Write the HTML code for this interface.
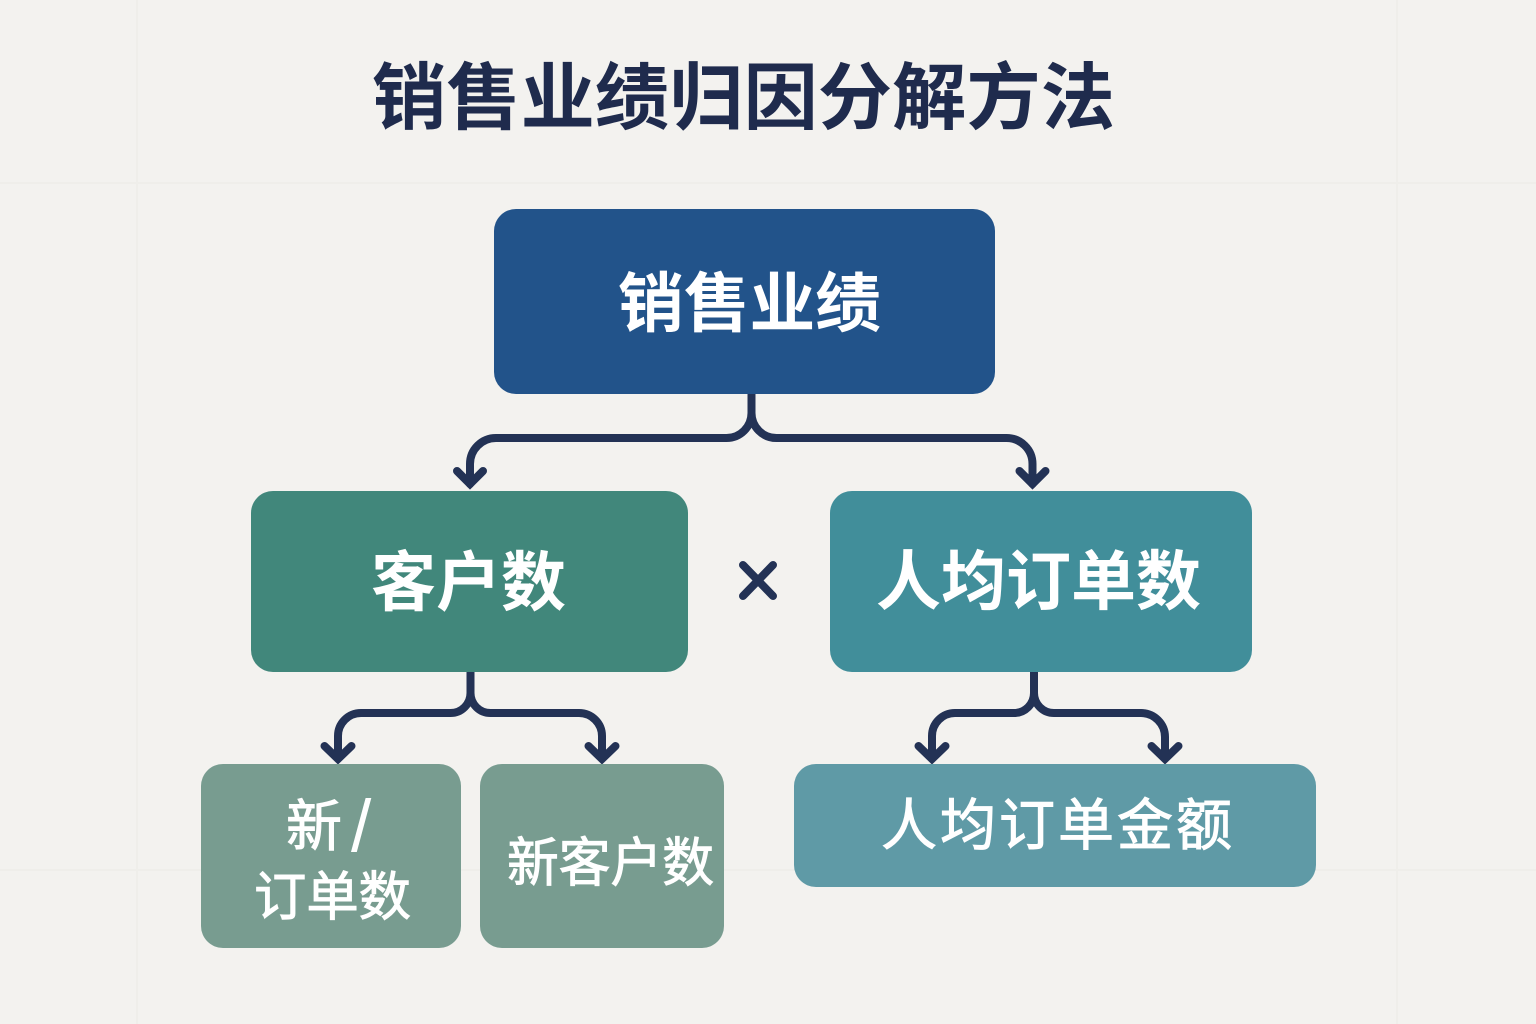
<!DOCTYPE html>
<html lang="zh"><head><meta charset="utf-8"><title>销售业绩归因分解方法</title>
<style>
html,body{margin:0;padding:0;background:#f3f2ef}
svg{display:block}
text{font-family:"Liberation Sans","Noto Sans CJK SC",sans-serif;fill:#fff}
.b{font-weight:700}
.m{stroke:#fff;stroke-width:1px}
.c{fill:none;stroke:#233255;stroke-width:8;stroke-linecap:round}
.a{fill:none;stroke:#233255;stroke-width:8;stroke-linecap:round;stroke-linejoin:miter}
</style></head><body>
<svg width="1536" height="1024" viewBox="0 0 1536 1024" xmlns="http://www.w3.org/2000/svg">
<rect width="1536" height="1024" fill="#f3f2ef"/>
<g stroke="#efeeea" stroke-width="2" fill="none">
<path d="M137 0V1024M1397 0V1024M0 183H1536M0 870H1536"/>
</g>
<text class="b" x="372" y="123" font-size="73" textLength="743" lengthAdjust="spacingAndGlyphs" style="fill:#1f2b4d">销售业绩归因分解方法</text>

<path class="c" d="M751.500 390V413A25 25 0 0 1 726.500 438H496A26 26 0 0 0 470 464V484M751.500 390V413A25 25 0 0 0 776.500 438H1006A26 26 0 0 1 1032.500 464V484"/>
<path class="a" d="M457 471L470 484L483 471M1019.500 471L1032.500 484L1045.500 471"/>

<path class="c" d="M470.500 668V693A20 20 0 0 1 450.500 713H361A23 23 0 0 0 338 736V757M470.500 668V693A20 20 0 0 0 490.500 713H579A23 23 0 0 1 602 736V757"/>
<path class="a" d="M324.500 746L338 759L351.500 746M588.500 746L602 759L615.500 746"/>

<path class="c" d="M1034 668V693A20 20 0 0 1 1014 713H955A23 23 0 0 0 932 736V757M1034 668V693A20 20 0 0 0 1054 713H1141A24 24 0 0 1 1165 737V757"/>
<path class="a" d="M918.500 746L932 759L945.500 746M1151.500 746L1165 759L1178.500 746"/>

<rect x="494" y="209" width="501" height="185" rx="22" fill="#22538a"/>
<rect x="251" y="491" width="437" height="181" rx="22" fill="#41877b"/>
<rect x="830" y="491" width="422" height="181" rx="22" fill="#418e9a"/>
<rect x="201" y="764" width="260" height="184" rx="22" fill="#789c90"/>
<rect x="480" y="764" width="244" height="184" rx="22" fill="#789c90"/>
<rect x="794" y="764" width="522" height="123" rx="22" fill="#5f9aa6"/>

<path d="M743 565L773 596M773 565L743 596" stroke="#233255" stroke-width="8" stroke-linecap="round" fill="none"/>

<text class="b" x="618" y="326" font-size="65" textLength="263" lengthAdjust="spacingAndGlyphs">销售业绩</text>
<text class="b" x="371" y="605" font-size="65" textLength="195" lengthAdjust="spacingAndGlyphs">客户数</text>
<text class="b" x="876" y="604" font-size="65" textLength="325" lengthAdjust="spacingAndGlyphs">人均订单数</text>
<text class="m" x="286" y="846" font-size="56">新</text>
<text x="351" y="851" font-size="73" style="font-weight:400">/</text>
<text class="m" x="254" y="915" font-size="53" textLength="157" lengthAdjust="spacingAndGlyphs">订单数</text>
<text class="m" x="507" y="881" font-size="53" textLength="207" lengthAdjust="spacingAndGlyphs">新客户数</text>
<text class="m" x="881" y="845" font-size="56" textLength="351" lengthAdjust="spacing">人均订单金额</text>
</svg>
</body></html>
